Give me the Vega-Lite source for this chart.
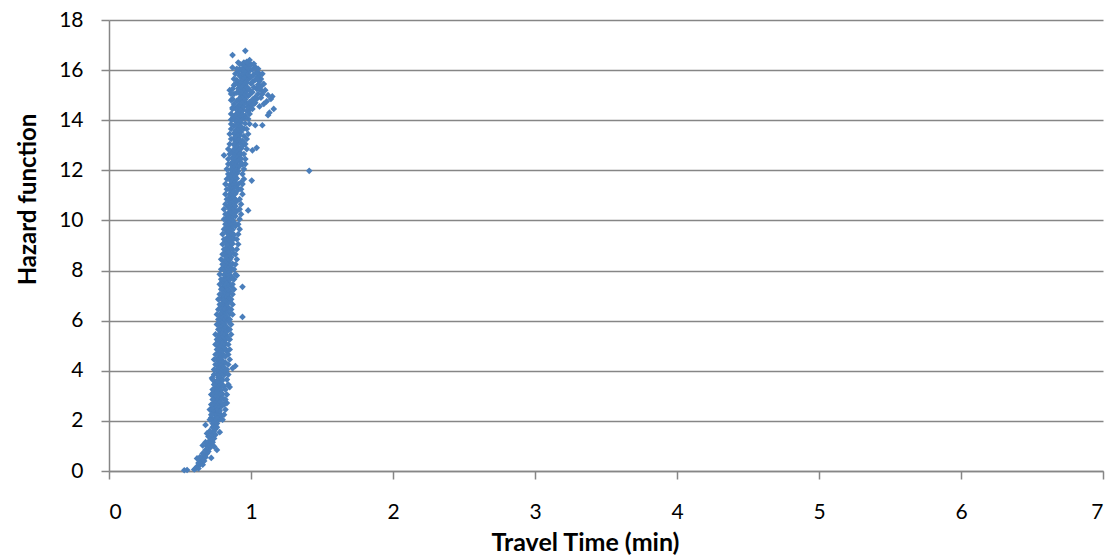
{
  "$schema": "https://vega.github.io/schema/vega-lite/v6.json",
  "width": 994,
  "height": 451,
  "autosize": {"type": "none"},
  "padding": {"left": 109, "top": 20, "right": 7, "bottom": 86},
  "background": "white",
  "config": {"view": {"stroke": null}},
  "data": {"values": [
{"t":0.53,"h":0.03},{"t":0.55,"h":0.04},{"t":0.60,"h":0.06},{"t":0.61,"h":0.10},{"t":0.63,"h":0.10},{"t":0.62,"h":0.18},
{"t":0.64,"h":0.25},{"t":0.66,"h":0.25},{"t":0.63,"h":0.32},{"t":0.65,"h":0.40},{"t":0.67,"h":0.40},{"t":0.66,"h":0.48},
{"t":0.68,"h":0.55},{"t":0.64,"h":0.55},{"t":0.67,"h":0.62},{"t":0.69,"h":0.70},{"t":0.66,"h":0.70},{"t":0.70,"h":0.78},
{"t":0.76,"h":0.84},{"t":0.68,"h":0.84},{"t":0.71,"h":0.92},{"t":0.69,"h":1.00},{"t":0.72,"h":1.00},{"t":0.70,"h":1.08},
{"t":0.73,"h":1.15},{"t":0.68,"h":1.15},{"t":0.71,"h":1.22},{"t":0.72,"h":1.30},{"t":0.74,"h":1.30},{"t":0.70,"h":1.38},
{"t":0.73,"h":1.45},{"t":0.75,"h":1.45},{"t":0.72,"h":1.52},{"t":0.74,"h":1.60},{"t":0.71,"h":1.60},{"t":0.75,"h":1.68},
{"t":0.73,"h":1.75},{"t":0.76,"h":1.75},{"t":0.68,"h":1.84},{"t":0.74,"h":1.84},{"t":0.76,"h":1.90},{"t":0.73,"h":1.90},{"t":0.75,"h":1.97},
{"t":0.62,"h":0.5},{"t":0.72,"h":0.52},{"t":0.66,"h":1.02},{"t":0.74,"h":0.98},{"t":0.69,"h":1.5},{"t":0.78,"h":1.55},
{"t":0.73,"h":2.0},{"t":0.76,"h":2.03},{"t":0.78,"h":2.07},
{"t":0.75,"h":2.1},{"t":0.72,"h":2.13},{"t":0.77,"h":2.17},
{"t":0.76,"h":2.2},{"t":0.79,"h":2.23},{"t":0.74,"h":2.27},
{"t":0.75,"h":2.3},{"t":0.77,"h":2.33},{"t":0.73,"h":2.37},
{"t":0.78,"h":2.4},{"t":0.76,"h":2.43},{"t":0.74,"h":2.47},
{"t":0.76,"h":2.5},{"t":0.73,"h":2.53},{"t":0.79,"h":2.57},
{"t":0.77,"h":2.6},{"t":0.75,"h":2.63},{"t":0.80,"h":2.67},
{"t":0.74,"h":2.7},{"t":0.77,"h":2.73},{"t":0.83,"h":2.71},
{"t":0.78,"h":2.8},{"t":0.75,"h":2.83},{"t":0.81,"h":2.87},
{"t":0.76,"h":2.9},{"t":0.79,"h":2.93},{"t":0.74,"h":2.97},
{"t":0.77,"h":3.0},{"t":0.75,"h":3.03},{"t":0.80,"h":3.07},
{"t":0.78,"h":3.1},{"t":0.76,"h":3.13},{"t":0.74,"h":3.17},
{"t":0.76,"h":3.2},{"t":0.79,"h":3.23},{"t":0.77,"h":3.27},
{"t":0.75,"h":3.3},{"t":0.78,"h":3.33},{"t":0.81,"h":3.37},{"t":0.85,"h":3.35},
{"t":0.77,"h":3.4},{"t":0.80,"h":3.43},{"t":0.76,"h":3.47},
{"t":0.78,"h":3.5},{"t":0.75,"h":3.53},{"t":0.79,"h":3.57},
{"t":0.76,"h":3.6},{"t":0.80,"h":3.63},{"t":0.78,"h":3.67},
{"t":0.79,"h":3.7},{"t":0.77,"h":3.73},{"t":0.725,"h":3.71},
{"t":0.78,"h":3.8},{"t":0.81,"h":3.83},{"t":0.76,"h":3.87},
{"t":0.77,"h":3.9},{"t":0.79,"h":3.93},{"t":0.82,"h":3.97},
{"t":0.78,"h":4.0},{"t":0.76,"h":4.03},{"t":0.80,"h":4.07},
{"t":0.79,"h":4.1},{"t":0.81,"h":4.13},{"t":0.77,"h":4.17},{"t":0.87,"h":4.1},{"t":0.89,"h":4.19},
{"t":0.76,"h":4.2},{"t":0.80,"h":4.23},{"t":0.78,"h":4.27},
{"t":0.79,"h":4.3},{"t":0.82,"h":4.33},{"t":0.77,"h":4.37},
{"t":0.80,"h":4.4},{"t":0.78,"h":4.43},{"t":0.76,"h":4.47},
{"t":0.77,"h":4.5},{"t":0.79,"h":4.53},{"t":0.82,"h":4.57},
{"t":0.81,"h":4.6},{"t":0.78,"h":4.63},{"t":0.80,"h":4.67},
{"t":0.79,"h":4.7},{"t":0.77,"h":4.73},{"t":0.83,"h":4.77},
{"t":0.80,"h":4.8},{"t":0.78,"h":4.83},{"t":0.82,"h":4.87},
{"t":0.79,"h":4.9},{"t":0.81,"h":4.93},{"t":0.77,"h":4.97},
{"t":0.80,"h":5.0},{"t":0.78,"h":5.03},{"t":0.82,"h":5.07},
{"t":0.81,"h":5.1},{"t":0.79,"h":5.13},{"t":0.77,"h":5.17},
{"t":0.79,"h":5.2},{"t":0.82,"h":5.23},{"t":0.80,"h":5.27},
{"t":0.78,"h":5.3},{"t":0.81,"h":5.33},{"t":0.83,"h":5.37},
{"t":0.80,"h":5.4},{"t":0.77,"h":5.43},{"t":0.82,"h":5.47},
{"t":0.81,"h":5.5},{"t":0.79,"h":5.53},{"t":0.83,"h":5.57},
{"t":0.79,"h":5.6},{"t":0.82,"h":5.63},{"t":0.78,"h":5.67},
{"t":0.80,"h":5.7},{"t":0.83,"h":5.73},{"t":0.81,"h":5.77},
{"t":0.82,"h":5.8},{"t":0.79,"h":5.83},{"t":0.77,"h":5.87},
{"t":0.81,"h":5.9},{"t":0.80,"h":5.93},{"t":0.84,"h":5.97},
{"t":0.80,"h":6.0},{"t":0.82,"h":6.03},{"t":0.78,"h":6.07},
{"t":0.81,"h":6.1},{"t":0.83,"h":6.13},{"t":0.79,"h":6.17},{"t":0.94,"h":6.15},
{"t":0.82,"h":6.2},{"t":0.80,"h":6.23},{"t":0.85,"h":6.27},
{"t":0.79,"h":6.3},{"t":0.82,"h":6.33},{"t":0.81,"h":6.37},
{"t":0.83,"h":6.4},{"t":0.80,"h":6.43},{"t":0.82,"h":6.47},
{"t":0.81,"h":6.5},{"t":0.84,"h":6.53},{"t":0.79,"h":6.57},
{"t":0.82,"h":6.6},{"t":0.80,"h":6.63},{"t":0.83,"h":6.67},
{"t":0.80,"h":6.7},{"t":0.83,"h":6.73},{"t":0.85,"h":6.77},
{"t":0.82,"h":6.8},{"t":0.81,"h":6.83},{"t":0.79,"h":6.87},
{"t":0.83,"h":6.9},{"t":0.81,"h":6.93},{"t":0.84,"h":6.97},
{"t":0.82,"h":7.0},{"t":0.80,"h":7.03},{"t":0.84,"h":7.07},
{"t":0.83,"h":7.1},{"t":0.81,"h":7.13},{"t":0.85,"h":7.17},
{"t":0.81,"h":7.2},{"t":0.84,"h":7.23},{"t":0.82,"h":7.27},
{"t":0.83,"h":7.3},{"t":0.80,"h":7.33},{"t":0.86,"h":7.37},{"t":0.94,"h":7.35},
{"t":0.82,"h":7.4},{"t":0.84,"h":7.43},{"t":0.81,"h":7.47},
{"t":0.84,"h":7.5},{"t":0.82,"h":7.53},{"t":0.80,"h":7.57},
{"t":0.83,"h":7.6},{"t":0.85,"h":7.63},{"t":0.81,"h":7.67},
{"t":0.82,"h":7.7},{"t":0.84,"h":7.73},{"t":0.86,"h":7.77},{"t":0.90,"h":7.8},
{"t":0.84,"h":7.8},{"t":0.81,"h":7.83},{"t":0.83,"h":7.87},
{"t":0.83,"h":7.9},{"t":0.85,"h":7.93},{"t":0.82,"h":7.97},
{"t":0.84,"h":8.0},{"t":0.82,"h":8.03},{"t":0.86,"h":8.07},
{"t":0.83,"h":8.1},{"t":0.85,"h":8.13},{"t":0.81,"h":8.17},
{"t":0.84,"h":8.2},{"t":0.82,"h":8.23},{"t":0.87,"h":8.27},
{"t":0.85,"h":8.3},{"t":0.83,"h":8.33},{"t":0.81,"h":8.37},
{"t":0.82,"h":8.4},{"t":0.85,"h":8.43},{"t":0.84,"h":8.47},
{"t":0.84,"h":8.5},{"t":0.86,"h":8.53},{"t":0.82,"h":8.57},
{"t":0.83,"h":8.6},{"t":0.85,"h":8.63},{"t":0.88,"h":8.67},
{"t":0.85,"h":8.7},{"t":0.82,"h":8.73},{"t":0.84,"h":8.77},
{"t":0.84,"h":8.8},{"t":0.87,"h":8.83},{"t":0.83,"h":8.87},
{"t":0.86,"h":8.9},{"t":0.83,"h":8.93},{"t":0.85,"h":8.97},
{"t":0.85,"h":9.0},{"t":0.83,"h":9.03},{"t":0.87,"h":9.07},
{"t":0.84,"h":9.1},{"t":0.86,"h":9.13},{"t":0.82,"h":9.17},
{"t":0.86,"h":9.2},{"t":0.84,"h":9.23},{"t":0.88,"h":9.27},
{"t":0.83,"h":9.3},{"t":0.85,"h":9.33},{"t":0.87,"h":9.37},
{"t":0.85,"h":9.4},{"t":0.88,"h":9.43},{"t":0.84,"h":9.47},
{"t":0.86,"h":9.5},{"t":0.83,"h":9.53},{"t":0.85,"h":9.57},
{"t":0.84,"h":9.6},{"t":0.87,"h":9.63},{"t":0.86,"h":9.67},
{"t":0.85,"h":9.7},{"t":0.83,"h":9.73},{"t":0.89,"h":9.77},
{"t":0.87,"h":9.8},{"t":0.85,"h":9.83},{"t":0.84,"h":9.87},
{"t":0.86,"h":9.9},{"t":0.88,"h":9.93},{"t":0.84,"h":9.97},
{"t":0.85,"h":10.0},{"t":0.87,"h":10.03},{"t":0.83,"h":10.07},
{"t":0.86,"h":10.1},{"t":0.84,"h":10.13},{"t":0.89,"h":10.17},
{"t":0.87,"h":10.2},{"t":0.85,"h":10.23},{"t":0.88,"h":10.27},
{"t":0.84,"h":10.3},{"t":0.86,"h":10.33},{"t":0.90,"h":10.37},
{"t":0.86,"h":10.4},{"t":0.88,"h":10.43},{"t":0.85,"h":10.47},{"t":0.98,"h":10.4},
{"t":0.87,"h":10.5},{"t":0.84,"h":10.53},{"t":0.89,"h":10.57},
{"t":0.85,"h":10.6},{"t":0.88,"h":10.63},{"t":0.86,"h":10.67},
{"t":0.87,"h":10.7},{"t":0.85,"h":10.73},{"t":0.90,"h":10.77},
{"t":0.86,"h":10.8},{"t":0.89,"h":10.83},{"t":0.84,"h":10.87},
{"t":0.88,"h":10.9},{"t":0.86,"h":10.93},{"t":0.87,"h":10.97},
{"t":0.87,"h":11.0},{"t":0.85,"h":11.03},{"t":0.89,"h":11.07},
{"t":0.86,"h":11.1},{"t":0.88,"h":11.13},{"t":0.90,"h":11.17},
{"t":0.87,"h":11.2},{"t":0.85,"h":11.23},{"t":0.91,"h":11.27},
{"t":0.88,"h":11.3},{"t":0.86,"h":11.33},{"t":0.89,"h":11.37},
{"t":0.85,"h":11.4},{"t":0.88,"h":11.43},{"t":0.87,"h":11.47},{"t":0.91,"h":11.45},
{"t":0.89,"h":11.5},{"t":0.87,"h":11.53},{"t":0.86,"h":11.57},{"t":0.93,"h":11.52},
{"t":0.88,"h":11.6},{"t":0.86,"h":11.63},{"t":0.90,"h":11.67},{"t":1.005,"h":11.59},
{"t":0.87,"h":11.7},{"t":0.89,"h":11.73},{"t":0.85,"h":11.77},
{"t":0.88,"h":11.8},{"t":0.86,"h":11.83},{"t":0.90,"h":11.87},
{"t":0.89,"h":11.9},{"t":0.87,"h":11.93},{"t":0.91,"h":11.97},
{"t":0.88,"h":12.0},{"t":0.86,"h":12.03},{"t":0.90,"h":12.07},{"t":1.41,"h":11.98},
{"t":0.89,"h":12.1},{"t":0.87,"h":12.13},{"t":0.92,"h":12.17},
{"t":0.88,"h":12.2},{"t":0.90,"h":12.23},{"t":0.86,"h":12.27},{"t":0.96,"h":12.25},
{"t":0.89,"h":12.3},{"t":0.87,"h":12.33},{"t":0.92,"h":12.37},
{"t":0.90,"h":12.4},{"t":0.88,"h":12.43},{"t":0.93,"h":12.47},
{"t":0.87,"h":12.5},{"t":0.89,"h":12.53},{"t":0.91,"h":12.57},
{"t":0.90,"h":12.6},{"t":0.88,"h":12.63},{"t":0.93,"h":12.67},{"t":0.81,"h":12.6},
{"t":0.89,"h":12.7},{"t":0.91,"h":12.73},{"t":0.87,"h":12.77},
{"t":0.90,"h":12.8},{"t":0.88,"h":12.83},{"t":0.93,"h":12.87},{"t":1.01,"h":12.8},
{"t":0.91,"h":12.9},{"t":0.89,"h":12.93},{"t":0.94,"h":12.97},{"t":1.04,"h":12.9},
{"t":0.90,"h":13.0},{"t":0.88,"h":13.03},{"t":0.93,"h":13.07},
{"t":0.91,"h":13.1},{"t":0.89,"h":13.13},{"t":0.94,"h":13.17},
{"t":0.90,"h":13.2},{"t":0.92,"h":13.23},{"t":0.88,"h":13.27},
{"t":0.91,"h":13.3},{"t":0.89,"h":13.33},{"t":0.95,"h":13.37},
{"t":0.92,"h":13.4},{"t":0.90,"h":13.43},{"t":0.88,"h":13.47},
{"t":0.91,"h":13.5},{"t":0.93,"h":13.53},{"t":0.89,"h":13.57},
{"t":0.92,"h":13.6},{"t":0.90,"h":13.63},{"t":0.95,"h":13.67},
{"t":0.91,"h":13.7},{"t":0.93,"h":13.73},{"t":0.88,"h":13.77},
{"t":0.92,"h":13.8},{"t":0.90,"h":13.83},{"t":0.96,"h":13.87},{"t":1.03,"h":13.8},{"t":1.08,"h":13.8},
{"t":0.93,"h":13.9},{"t":0.91,"h":13.93},{"t":0.89,"h":13.97},
{"t":0.92,"h":14.0},{"t":0.90,"h":14.03},{"t":0.95,"h":14.07},{"t":0.86,"h":14.02},
{"t":0.93,"h":14.1},{"t":0.91,"h":14.13},{"t":0.96,"h":14.17},{"t":0.88,"h":14.15},
{"t":0.92,"h":14.2},{"t":0.94,"h":14.23},{"t":0.90,"h":14.27},{"t":1.12,"h":14.2},
{"t":0.93,"h":14.3},{"t":0.91,"h":14.33},{"t":0.97,"h":14.37},{"t":1.13,"h":14.3},
{"t":0.94,"h":14.4},{"t":0.92,"h":14.43},{"t":0.89,"h":14.47},{"t":0.99,"h":14.42},{"t":1.16,"h":14.45},
{"t":0.93,"h":14.5},{"t":0.95,"h":14.53},{"t":0.91,"h":14.57},{"t":0.98,"h":14.52},{"t":1.06,"h":14.55},{"t":0.87,"h":14.5},
{"t":0.94,"h":14.6},{"t":0.92,"h":14.63},{"t":0.97,"h":14.67},{"t":1.00,"h":14.62},{"t":1.09,"h":14.65},
{"t":0.95,"h":14.7},{"t":0.93,"h":14.73},{"t":0.90,"h":14.77},{"t":0.99,"h":14.72},{"t":1.11,"h":14.75},{"t":1.03,"h":14.7},
{"t":0.94,"h":14.8},{"t":0.96,"h":14.83},{"t":0.92,"h":14.87},{"t":1.01,"h":14.82},{"t":1.14,"h":14.85},{"t":0.86,"h":14.8},
{"t":0.95,"h":14.9},{"t":0.93,"h":14.93},{"t":0.98,"h":14.97},{"t":1.03,"h":14.92},{"t":1.15,"h":14.95},{"t":1.07,"h":14.9},
{"t":0.94,"h":15.0},{"t":0.96,"h":15.03},{"t":0.92,"h":15.07},{"t":0.99,"h":15.02},{"t":1.05,"h":15.05},{"t":1.12,"h":15.0},{"t":0.88,"h":15.05},
{"t":0.95,"h":15.1},{"t":0.93,"h":15.13},{"t":0.97,"h":15.17},{"t":1.01,"h":15.12},{"t":1.08,"h":15.15},{"t":0.90,"h":15.1},
{"t":0.96,"h":15.2},{"t":0.94,"h":15.23},{"t":0.91,"h":15.27},{"t":0.99,"h":15.22},{"t":1.04,"h":15.25},{"t":1.10,"h":15.2},{"t":0.85,"h":15.2},
{"t":0.95,"h":15.3},{"t":0.97,"h":15.33},{"t":0.93,"h":15.37},{"t":1.02,"h":15.32},{"t":1.07,"h":15.35},
{"t":0.96,"h":15.4},{"t":0.94,"h":15.43},{"t":1.00,"h":15.47},{"t":1.05,"h":15.42},{"t":0.91,"h":15.45},{"t":0.88,"h":15.4},
{"t":0.97,"h":15.5},{"t":0.95,"h":15.53},{"t":0.93,"h":15.57},{"t":1.01,"h":15.52},{"t":1.06,"h":15.55},
{"t":0.96,"h":15.6},{"t":0.98,"h":15.63},{"t":0.94,"h":15.67},{"t":1.03,"h":15.62},{"t":1.07,"h":15.65},{"t":0.90,"h":15.6},
{"t":0.97,"h":15.7},{"t":0.95,"h":15.73},{"t":0.92,"h":15.77},{"t":1.00,"h":15.72},{"t":1.05,"h":15.75},
{"t":0.96,"h":15.8},{"t":0.98,"h":15.83},{"t":0.94,"h":15.87},{"t":1.02,"h":15.82},{"t":1.06,"h":15.85},
{"t":0.97,"h":15.9},{"t":0.95,"h":15.93},{"t":0.99,"h":15.97},{"t":1.04,"h":15.92},{"t":0.91,"h":15.95},
{"t":0.96,"h":16.0},{"t":0.94,"h":16.03},{"t":0.98,"h":16.07},{"t":1.01,"h":16.02},{"t":0.92,"h":16.05},
{"t":0.95,"h":16.1},{"t":0.97,"h":16.13},{"t":0.99,"h":16.17},{"t":1.03,"h":16.12},{"t":0.87,"h":16.1},
{"t":0.96,"h":16.2},{"t":0.94,"h":16.23},{"t":0.98,"h":16.27},{"t":1.00,"h":16.22},
{"t":0.95,"h":16.3},{"t":0.97,"h":16.33},{"t":0.91,"h":16.3},{"t":0.99,"h":16.4},
{"t":0.87,"h":16.6},{"t":0.96,"h":16.77},
{"t":0.71,"h":2.05},{"t":0.80,"h":2.05},{"t":0.72,"h":2.25},{"t":0.81,"h":2.25},{"t":0.71,"h":2.45},{"t":0.82,"h":2.45},
{"t":0.72,"h":2.65},{"t":0.81,"h":2.65},{"t":0.73,"h":2.85},{"t":0.82,"h":2.85},{"t":0.72,"h":3.05},{"t":0.83,"h":3.05},
{"t":0.73,"h":3.25},{"t":0.82,"h":3.25},{"t":0.74,"h":3.45},{"t":0.84,"h":3.45},{"t":0.73,"h":3.65},{"t":0.83,"h":3.65},
{"t":0.74,"h":3.85},{"t":0.84,"h":3.85},{"t":0.74,"h":4.05},{"t":0.83,"h":4.05},{"t":0.75,"h":4.25},{"t":0.84,"h":4.25},
{"t":0.74,"h":4.45},{"t":0.85,"h":4.45},{"t":0.75,"h":4.65},{"t":0.84,"h":4.65},{"t":0.76,"h":4.85},{"t":0.85,"h":4.85},
{"t":0.75,"h":5.05},{"t":0.84,"h":5.05},{"t":0.76,"h":5.25},{"t":0.85,"h":5.25},{"t":0.75,"h":5.45},{"t":0.86,"h":5.45},
{"t":0.77,"h":5.65},{"t":0.85,"h":5.65},{"t":0.76,"h":5.85},{"t":0.86,"h":5.85},{"t":0.77,"h":6.05},{"t":0.85,"h":6.05},
{"t":0.76,"h":6.25},{"t":0.87,"h":6.25},{"t":0.77,"h":6.45},{"t":0.86,"h":6.45},{"t":0.78,"h":6.65},{"t":0.87,"h":6.65},
{"t":0.77,"h":6.85},{"t":0.86,"h":6.85},{"t":0.78,"h":7.05},{"t":0.87,"h":7.05},{"t":0.79,"h":7.25},{"t":0.88,"h":7.25},
{"t":0.78,"h":7.45},{"t":0.87,"h":7.45},{"t":0.79,"h":7.65},{"t":0.88,"h":7.65},{"t":0.78,"h":7.85},{"t":0.89,"h":7.85},
{"t":0.79,"h":8.05},{"t":0.88,"h":8.05},{"t":0.80,"h":8.25},{"t":0.89,"h":8.25},{"t":0.79,"h":8.45},{"t":0.90,"h":8.45},
{"t":0.80,"h":8.65},{"t":0.89,"h":8.65},{"t":0.81,"h":8.85},{"t":0.90,"h":8.85},{"t":0.80,"h":9.05},{"t":0.91,"h":9.05},
{"t":0.81,"h":9.25},{"t":0.90,"h":9.25},{"t":0.80,"h":9.45},{"t":0.91,"h":9.45},{"t":0.81,"h":9.65},{"t":0.92,"h":9.65},
{"t":0.82,"h":9.85},{"t":0.91,"h":9.85},{"t":0.81,"h":10.05},{"t":0.92,"h":10.05},{"t":0.82,"h":10.25},{"t":0.93,"h":10.25},
{"t":0.81,"h":10.45},{"t":0.92,"h":10.45},{"t":0.82,"h":10.65},{"t":0.93,"h":10.65},{"t":0.83,"h":10.85},{"t":0.92,"h":10.85},
{"t":0.82,"h":11.05},{"t":0.94,"h":11.05},{"t":0.83,"h":11.25},{"t":0.93,"h":11.25},{"t":0.82,"h":11.45},{"t":0.94,"h":11.45},
{"t":0.83,"h":11.65},{"t":0.95,"h":11.65},{"t":0.84,"h":11.85},{"t":0.94,"h":11.85},{"t":0.83,"h":12.05},{"t":0.95,"h":12.05},
{"t":0.84,"h":12.25},{"t":0.94,"h":12.25},{"t":0.84,"h":12.45},{"t":0.96,"h":12.45},{"t":0.85,"h":12.65},{"t":0.95,"h":12.65},
{"t":0.84,"h":12.85},{"t":0.97,"h":12.85},{"t":0.85,"h":13.05},{"t":0.96,"h":13.05},{"t":0.86,"h":13.25},{"t":0.97,"h":13.25},
{"t":0.85,"h":13.45},{"t":0.98,"h":13.45},{"t":0.86,"h":13.65},{"t":0.97,"h":13.65},{"t":0.86,"h":13.85},{"t":0.99,"h":13.85},
{"t":0.87,"h":14.05},{"t":0.98,"h":14.05},{"t":0.86,"h":14.25},{"t":0.99,"h":14.25},{"t":0.87,"h":14.45},{"t":1.01,"h":14.45},
{"t":0.88,"h":14.65},{"t":1.02,"h":14.65},{"t":0.87,"h":14.85},{"t":1.04,"h":14.85},{"t":0.86,"h":15.05},{"t":1.08,"h":15.05},
{"t":0.87,"h":15.25},{"t":1.06,"h":15.25},{"t":0.89,"h":15.45},{"t":1.09,"h":15.45},{"t":0.88,"h":15.65},{"t":1.04,"h":15.65},
{"t":0.89,"h":15.85},{"t":1.08,"h":15.85},{"t":0.90,"h":16.05},{"t":1.05,"h":16.05},{"t":0.92,"h":16.25},{"t":1.02,"h":16.25}
  ]},
  "mark": {"type": "point", "shape": "diamond", "filled": true, "size": 45, "color": "#4A7EBB", "opacity": 1},
  "encoding": {
    "x": {
      "field": "t", "type": "quantitative",
      "scale": {"domain": [0, 7], "nice": false, "zero": true},
      "axis": {
        "title": "Travel Time (min)", "values": [0,1,2,3,4,5,6,7],
        "grid": false, "domainColor": "#868686", "domainWidth": 1.5,
        "tickColor": "#868686", "tickSize": 8, "tickWidth": 1.5,
        "labelFont": "Lato", "labelFontSize": 21, "labelColor": "#000000", "labelPadding": 22,
        "titleFont": "Lato", "titleFontSize": 25, "titleFontWeight": "bold", "titleColor": "#000000",
        "titleX": 476, "titleAlign": "center", "titlePadding": 8
      }
    },
    "y": {
      "field": "h", "type": "quantitative",
      "scale": {"domain": [0, 18], "nice": false},
      "axis": {
        "title": "Hazard function", "values": [0,2,4,6,8,10,12,14,16,18],
        "grid": true, "gridColor": "#868686", "gridWidth": 1.5,
        "domainColor": "#868686", "domainWidth": 1.5,
        "tickColor": "#868686", "tickSize": 8, "tickWidth": 1.5,
        "labelFont": "Lato", "labelFontSize": 21, "labelColor": "#000000", "labelPadding": 18,
        "titleFont": "Lato", "titleFontSize": 24, "titleFontWeight": "bold", "titleColor": "#000000",
        "titleX": -81, "titleY": 179, "titleBaseline": "middle"
      }
    }
  }
}
